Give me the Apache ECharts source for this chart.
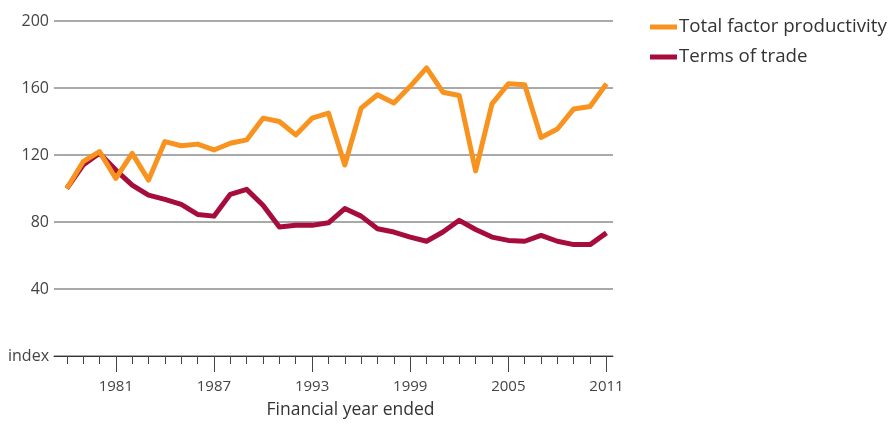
<!DOCTYPE html>
<html>
<head>
<meta charset="utf-8">
<script src="https://cdn.jsdelivr.net/npm/echarts@6/dist/echarts.min.js"></script>
<style>
html,body{margin:0;padding:0;background:#fff;}
#chart{width:889px;height:424px;}
</style>
</head>
<body>
<div id="chart"></div>
<script>
const years = [1978,1979,1980,1981,1982,1983,1984,1985,1986,1987,1988,1989,1990,1991,1992,1993,1994,1995,1996,1997,1998,1999,2000,2001,2002,2003,2004,2005,2006,2007,2008,2009,2010,2011];
const tfp = [100,116,122,106,121,105,128,125.5,126.5,123,127,129,142,140,132,142,145,114,148,156,151,161,172,157.5,155.5,110.5,150.5,162.5,162,130.5,135.5,147.5,149,162.5];
const tot = [100,114,121,111,102,96,93.5,90.5,84.5,83.5,96.5,99.5,90,77,78,78,79.5,88,83.5,76,74,71,68.5,74,81,75.5,71,69,68.5,72,68.5,66.5,66.5,73.5];
const majorYears = [1981,1987,1993,1999,2005,2011];
const seriesNames = ['Total factor productivity','Terms of trade'];

const font = 'Open Sans';
const chart = echarts.init(document.getElementById('chart'));
const pair = (vals) => years.map((y,i)=>[y, vals[i]]);
const xMin = 1977.22, xMax = 2011.4;

chart.setOption({
  animation:false,
  backgroundColor:'#ffffff',
  grid:{left:54, right:276, top:21, bottom:67},
  legend:{
    orient:'vertical', left:645, top:12,
    itemWidth:27, itemHeight:5, itemGap:10, icon:'rect',
    data:seriesNames,
    textStyle:{fontFamily:font, fontSize:18.7, color:'#333', lineHeight:20, padding:[0,0,0,-3]}
  },
  xAxis:[{
    type:'value', min:xMin, max:xMax,
    axisLine:{show:true, lineStyle:{color:'#333', width:1}},
    axisTick:{show:true, length:8, customValues:years, lineStyle:{color:'#444', width:1}},
    axisLabel:{show:true, customValues:majorYears, margin:23, fontFamily:font, fontSize:15, color:'#444',
      formatter:(v)=>String(v)},
    splitLine:{show:false},
    name:'Financial year ended', nameLocation:'middle', nameGap:45,
    nameTextStyle:{fontFamily:font, fontSize:17.5, color:'#333', padding:[0,0,0,34]}
  },{
    type:'value', min:xMin, max:xMax, position:'bottom',
    axisLine:{show:false},
    axisTick:{show:true, length:16, customValues:majorYears, lineStyle:{color:'#444', width:1}},
    axisLabel:{show:false},
    splitLine:{show:false}
  }],
  yAxis:{
    type:'value', min:0, max:200, interval:40,
    axisLine:{show:false}, axisTick:{show:false},
    axisLabel:{fontFamily:font, fontSize:16, color:'#444', margin:5,
      formatter:(v)=> v===0 ? 'index' : String(v)},
    splitLine:{show:true, lineStyle:{color:'#8c8c8c', width:1.5}}
  },
  series:[{
    name:seriesNames[1], type:'line', data:pair(tot), showSymbol:false, symbol:'none',
    lineStyle:{color:'#A60D3C', width:5, join:'round'}, itemStyle:{color:'#A60D3C'}, z:2
  },{
    name:seriesNames[0], type:'line', data:pair(tfp), showSymbol:false, symbol:'none',
    lineStyle:{color:'#F7931E', width:5, join:'round'}, itemStyle:{color:'#F7931E'}, z:3
  }]
});
</script>
</body>
</html>
